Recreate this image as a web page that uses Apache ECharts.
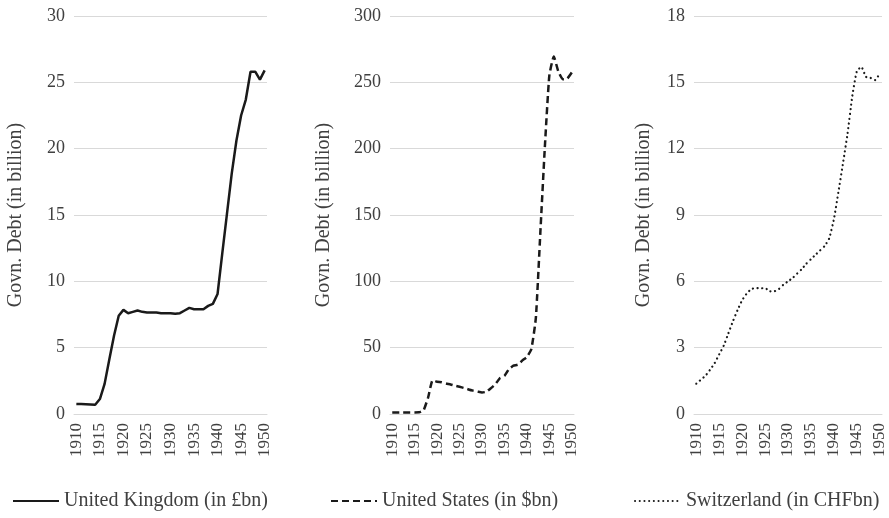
<!DOCTYPE html>
<html>
<head>
<meta charset="utf-8">
<script src="https://cdn.jsdelivr.net/npm/echarts@6/dist/echarts.min.js"></script>
<style>
  html, body { margin: 0; padding: 0; background: #fff; }
  #chart { width: 889px; height: 518px; }
</style>
</head>
<body>
<div id="chart"></div>
<script>
// years 1910..1950
const years = [];
for (let y = 1910; y <= 1950; y++) years.push(String(y));

const ukDebt = [0.76, 0.75, 0.74, 0.72, 0.70, 1.13, 2.27, 4.1, 5.9, 7.4,
  7.85, 7.6, 7.7, 7.8, 7.7, 7.65, 7.65, 7.65, 7.6, 7.6,
  7.6, 7.55, 7.6, 7.8, 8.0, 7.9, 7.9, 7.9, 8.15, 8.3,
  9.05, 12.1, 15.1, 18.1, 20.6, 22.5, 23.7, 25.8, 25.8, 25.2,
  25.9];

const usDebt = [1.15, 1.15, 1.19, 1.19, 1.19, 1.19, 1.23, 2.98, 12.5, 25.5,
  24.3, 24.0, 23.0, 22.3, 21.3, 20.5, 19.6, 18.5, 17.6, 16.9,
  16.2, 16.8, 19.5, 22.5, 27.1, 28.7, 33.8, 36.4, 37.2, 40.4,
  43.0, 49.0, 72.4, 136.7, 201.0, 255.0, 269.4, 258.3, 252.3, 252.8,
  257.4];

const chDebt = [1.37, 1.55, 1.73, 2.0, 2.3, 2.7, 3.1, 3.65, 4.2, 4.7,
  5.15, 5.45, 5.65, 5.7, 5.68, 5.7, 5.55, 5.55, 5.65, 5.85,
  6.0, 6.15, 6.35, 6.55, 6.8, 7.0, 7.2, 7.4, 7.6, 7.95,
  8.8, 10.05, 11.35, 12.7, 14.35, 15.5, 15.7, 15.25, 15.2, 15.1,
  15.4];

const seriesNames = ["United Kingdom (in £bn)", "United States (in $bn)", "Switzerland (in CHFbn)"];
const yMax = [30, 300, 18];
const yStep = [5, 50, 3];

const font = "Liberation Serif";
const textColor = "#404040";
const gridColor = "#d9d9d9";

const myChart = echarts.init(document.getElementById("chart"));

function xAxis(i) {
  return {
    gridIndex: i,
    type: "category",
    data: years,
    boundaryGap: true,
    axisTick: { show: false },
    axisLine: { lineStyle: { color: gridColor, width: 1 } },
    axisLabel: {
      interval: 4,
      rotate: 90,
      margin: 9,
      color: textColor,
      fontFamily: font,
      fontSize: 17,
    },
  };
}

function yAxis(i, gap) {
  return {
    gridIndex: i,
    type: "value",
    min: 0,
    max: yMax[i],
    interval: yStep[i],
    name: "Govn. Debt (in billion)",
    nameLocation: "middle",
    nameRotate: 90,
    nameGap: gap,
    nameTextStyle: { color: textColor, fontFamily: font, fontSize: 20 },
    axisLine: { show: false },
    axisTick: { show: false },
    splitLine: { lineStyle: { color: gridColor, width: 1 } },
    axisLabel: { margin: 9, color: textColor, fontFamily: font, fontSize: 18 },
  };
}

function legend(name, left) {
  return {
    data: [name],
    left: left,
    top: 486,
    itemWidth: 46,
    itemHeight: 14,
    itemGap: 6,
    itemStyle: { opacity: 0 }, // hide the circle, keep the line
    textStyle: { color: textColor, fontFamily: font, fontSize: 20 },
  };
}

const option = {
  animation: false,
  grid: [
    { left: 74, top: 16, width: 193, height: 398 },
    { left: 390, top: 16, width: 184, height: 398 },
    { left: 694, top: 16, width: 188, height: 398 },
  ],
  xAxis: [xAxis(0), xAxis(1), xAxis(2)],
  yAxis: [yAxis(0, 48), yAxis(1, 56), yAxis(2, 40)],
  legend: [
    legend(seriesNames[0], 7),
    legend(seriesNames[1], 325),
    legend(seriesNames[2], 629),
  ],
  series: [
    {
      name: seriesNames[0],
      type: "line",
      xAxisIndex: 0,
      yAxisIndex: 0,
      data: ukDebt,
      symbol: "none",
      lineStyle: { color: "#1a1a1a", width: 2.5 },
      itemStyle: { color: "#1a1a1a" },
    },
    {
      name: seriesNames[1],
      type: "line",
      xAxisIndex: 1,
      yAxisIndex: 1,
      data: usDebt,
      symbol: "none",
      smooth: 0.15,
      lineStyle: { color: "#1a1a1a", width: 2.5, type: [7, 4] },
      itemStyle: { color: "#1a1a1a" },
    },
    {
      name: seriesNames[2],
      type: "line",
      xAxisIndex: 2,
      yAxisIndex: 2,
      data: chDebt,
      symbol: "none",
      smooth: 0.15,
      lineStyle: { color: "#1a1a1a", width: 2.2, type: [0.1, 4.6], cap: "round" },
      itemStyle: { color: "#1a1a1a" },
    },
  ],
};

myChart.setOption(option);
</script>
</body>
</html>
